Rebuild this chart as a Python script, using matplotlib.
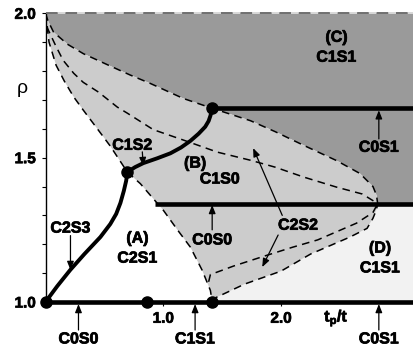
import matplotlib as mpl
import matplotlib.pyplot as plt
import matplotlib.patheffects as pe
import numpy as np

mpl.rcParams['font.family'] = 'Liberation Sans'
mpl.rcParams['font.weight'] = 'bold'
mpl.rcParams['font.size'] = 11.5
mpl.rcParams['mathtext.fontset'] = 'custom'
mpl.rcParams['mathtext.rm'] = 'Liberation Sans:bold'
mpl.rcParams['mathtext.it'] = 'Liberation Sans:bold'
mpl.rcParams['mathtext.default'] = 'rm'

# phase boundaries, (t_p/t, rho)
upper_x = np.array([0.0, 0.02, 0.068, 0.186, 0.322, 0.525, 0.72, 0.89, 1.17, 1.415,
                    1.74, 1.95, 2.19, 2.47, 2.67, 2.78, 2.81, 2.82])
upper_rho = np.array([2.0, 1.975, 1.935, 1.893, 1.860, 1.822, 1.786, 1.757, 1.705, 1.671,
                      1.628, 1.590, 1.543, 1.490, 1.445, 1.400, 1.37, 1.341])

mid_x = np.array([0.0, 0.017, 0.085, 0.15, 0.24, 0.32, 0.45, 0.61, 0.695, 0.915,
                  1.17, 1.46, 1.74, 1.95, 2.19, 2.47, 2.69, 2.82])
mid_rho = np.array([2.0, 1.948, 1.889, 1.837, 1.792, 1.761, 1.727, 1.675, 1.654, 1.597,
                    1.561, 1.519, 1.491, 1.467, 1.433, 1.398, 1.374, 1.341])

low_x = np.array([0.0, 0.03, 0.09, 0.16, 0.24, 0.32, 0.44, 0.55, 0.695, 0.805,
                  0.90, 1.0, 1.12, 1.23, 1.33, 1.40, 1.415])
low_rho = np.array([2.0, 1.90, 1.82, 1.765, 1.71, 1.665, 1.60, 1.54, 1.45, 1.41,
                    1.365, 1.318, 1.25, 1.19, 1.11, 1.04, 1.0])

right_x = np.array([1.415, 1.44, 1.69, 2.0, 2.25, 2.585, 2.73, 2.78, 2.81, 2.82])
right_rho = np.array([1.0, 1.014, 1.062, 1.107, 1.166, 1.225, 1.255, 1.29, 1.32, 1.341])

inner_x = np.array([1.385, 1.40, 1.6, 1.85, 2.1, 2.31, 2.64, 2.78, 2.82])
inner_rho = np.array([1.07, 1.095, 1.125, 1.158, 1.19, 1.215, 1.273, 1.31, 1.341])

c2s3_x = np.array([0.0, 0.1, 0.21, 0.33, 0.466, 0.55, 0.60, 0.636, 0.665, 0.685, 0.695])
c2s3_rho = np.array([1.0, 1.055, 1.111, 1.166, 1.225, 1.270, 1.305, 1.343, 1.385, 1.42, 1.45])

c1s2_x = np.array([0.695, 0.76, 0.83, 0.95, 1.06, 1.15, 1.23, 1.30, 1.356, 1.385, 1.40, 1.41, 1.415])
c1s2_rho = np.array([1.45, 1.467, 1.481, 1.498, 1.515, 1.535, 1.558, 1.583, 1.607, 1.627, 1.645, 1.66, 1.671])

dots_x = np.array([0.0, 0.86, 1.415, 0.695, 1.415])
dots_rho = np.array([1.0, 1.0, 1.0, 1.45, 1.671])

rho_c0s0 = 1.341
rho_c0s1 = 1.671
x_max = 3.12

fig = plt.figure(figsize=(4.13, 3.47), dpi=100)
ax = fig.add_axes([45.5 / 413, 45 / 347, 1 - 45.5 / 413, 288.7 / 347])
ax.set_xlim(0, x_max)
ax.set_ylim(1.0, 2.0)

dark = '#9a9a9a'
light = '#cccccc'
pale = '#f2f2f2'

# shaded phases
ax.fill(np.concatenate([upper_x, [x_max, x_max]]),
        np.concatenate([upper_rho, [rho_c0s0, 2.0]]), color=dark, lw=0, zorder=0)
ax.fill(np.concatenate([right_x, [x_max, x_max]]),
        np.concatenate([right_rho, [rho_c0s0, 1.0]]), color=pale, lw=0, zorder=0)
ax.fill(np.concatenate([upper_x, right_x[::-1], low_x[::-1]]),
        np.concatenate([upper_rho, right_rho[::-1], low_rho[::-1]]), color=light, lw=0, zorder=0)

dash = dict(color='black', lw=1.1, dashes=(5, 3.5), zorder=2)
ax.plot(upper_x, upper_rho, **dash)
ax.plot(mid_x, mid_rho, **dash)
ax.plot(low_x, low_rho, **dash)
ax.plot(right_x, right_rho, **dash)
ax.plot(inner_x, inner_rho, **dash)

ax.axhline(2.0, color='#707070', gapcolor='#d8d8d8', lw=1.4, dashes=(6, 4), clip_on=False, zorder=3)

# thick transition lines
x_start = np.interp(rho_c0s0, low_rho[::-1], low_x[::-1])
ax.plot([0, x_max], [1.0, 1.0], color='black', lw=3.3, clip_on=False, zorder=4, solid_capstyle='butt')
ax.plot([x_start - 0.02, x_max], [rho_c0s0, rho_c0s0], color='black', lw=3.3, zorder=4, solid_capstyle='butt')
ax.plot([1.415, x_max], [rho_c0s1, rho_c0s1], color='black', lw=3.3, zorder=4, solid_capstyle='butt')
ax.plot(c2s3_x, c2s3_rho, color='black', lw=2.8, zorder=4, clip_on=False, solid_joinstyle='round')
ax.plot(c1s2_x, c1s2_rho, color='black', lw=2.8, zorder=4, solid_joinstyle='round')
ax.plot(dots_x, dots_rho, ls='none', marker='o', ms=8, color='black', clip_on=False, zorder=5)

# slightly heavier strokes, the original lettering is very dark
heavy = [pe.withStroke(linewidth=0.5, foreground='black')]
bold = dict(ha='center', va='center', family='Liberation Sans', fontweight='bold', fontsize=11.5,
            path_effects=heavy)

# phase names
ax.text(2.47, 1.917, '(C)', **bold)
ax.text(2.47, 1.848, 'C1S1', **bold)
ax.text(1.27, 1.481, '(B)', **bold)
ax.text(1.48, 1.426, 'C1S0', **bold)
ax.text(0.78, 1.221, '(A)', **bold)
ax.text(0.78, 1.152, 'C2S1', **bold)
ax.text(2.84, 1.187, '(D)', **bold)
ax.text(2.84, 1.118, 'C1S1', **bold)

arr = dict(arrowstyle='-|>,head_length=0.5,head_width=0.2', color='black', lw=0.9,
           mutation_scale=10, shrinkA=0, shrinkB=0)
ax.annotate('', xy=(0.83, 1.471), xytext=(0.822, 1.52), arrowprops=arr)
ax.text(0.737, 1.543, 'C1S2', **bold)
ax.annotate('', xy=(0.212, 1.111), xytext=(0.212, 1.23), arrowprops=arr)
ax.text(0.212, 1.256, 'C2S3', **bold)
ax.annotate('', xy=(1.415, 1.336), xytext=(1.415, 1.25), arrowprops=arr)
ax.text(1.415, 1.215, 'C0S0', **bold)
ax.annotate('', xy=(2.83, 1.664), xytext=(2.83, 1.565), arrowprops=arr)
ax.text(2.83, 1.536, 'C0S1', **bold)
ax.annotate('', xy=(1.763, 1.533), xytext=(2.01, 1.30), arrowprops=arr)
ax.annotate('', xy=(1.84, 1.121), xytext=(1.975, 1.232), arrowprops=arr)
ax.text(2.144, 1.266, 'C2S2', **bold)

# labels under the rho = 1 line
for xb, name in zip([0.28, 1.27, 2.83], ['C0S0', 'C1S1', 'C0S1']):
    ax.annotate('', xy=(xb, 0.993), xytext=(xb, 0.903), arrowprops=arr, annotation_clip=False)
    ax.text(xb, 0.872, name, clip_on=False, **bold)

ax.text(2.47, 0.945, r'$t_p/t$', ha='center', va='center', fontsize=11.5, path_effects=heavy)
ax.text(-0.2, 1.74, 'ρ', ha='center', va='center', family='Liberation Sans', fontsize=14, fontweight='normal')

ax.set_xticks([1.0, 2.0])
ax.set_xticklabels(['1.0', '2.0'], family='Liberation Sans', fontweight='bold', fontsize=11)
ax.set_yticks([1.0, 1.5, 2.0])
ax.set_yticklabels(['1.0', '1.5', '2.0'], family='Liberation Sans', fontweight='bold', fontsize=11)
ax.set_yticks(np.arange(1.1, 2.0, 0.1), minor=True)
ax.tick_params(axis='x', direction='out', length=3, width=0.8, pad=4)
ax.tick_params(axis='y', which='both', direction='out', length=3, width=0.8, pad=4)
for lab in ax.get_xticklabels() + ax.get_yticklabels():
    lab.set_path_effects(heavy)

for side in ['top', 'right', 'bottom']:
    ax.spines[side].set_visible(False)
ax.spines['left'].set_linewidth(1.0)

plt.savefig('out.png', dpi=100)
